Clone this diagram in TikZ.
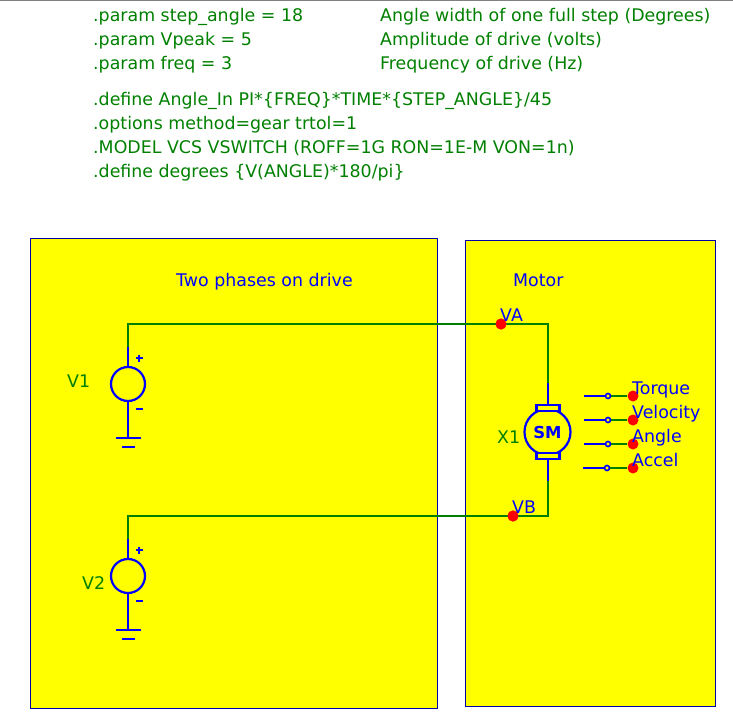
\documentclass[tikz,border=0pt]{standalone}
\usepackage{fontspec}
\setmainfont{DejaVu Sans}
\definecolor{panel}{RGB}{255,255,0}
\definecolor{netgreen}{RGB}{0,128,0}
\definecolor{partblue}{RGB}{0,0,255}
\definecolor{borderblue}{RGB}{0,0,160}
\tikzset{
  panelbox/.style ={draw=borderblue, fill=panel, line width=1.1pt},
  wire/.style     ={netgreen, line width=2pt},
  lead/.style     ={partblue, line width=2.2pt},
  spice/.style    ={text=netgreen, anchor=base west, inner sep=0pt, font=\fontsize{17.4}{20}\selectfont},
  note/.style     ={text=partblue, anchor=base west, inner sep=0pt, font=\fontsize{17.4}{20}\selectfont},
  partname/.style ={text=netgreen, anchor=base west, inner sep=0pt, font=\fontsize{17.4}{20}\selectfont},
  testdot/.style  ={circle, fill=red, inner sep=0pt, minimum size=11pt},
  source/.style   ={circle, draw=partblue, line width=2.2pt, inner sep=0pt, minimum size=34pt},
  brush/.style    ={draw=partblue, fill=panel, line width=2.2pt, minimum width=23pt, minimum height=6pt, inner sep=0pt},
  pin/.style      ={circle, draw=partblue, fill=panel, line width=1.6pt, inner sep=0pt, minimum size=5pt},
}

\begin{document}
\begin{tikzpicture}[x=1pt, y=-1pt]
  \useasboundingbox (0,0) rectangle (733,727);
  \draw[gray, line width=1pt] (0,0.5) -- (733,0.5);

  % ---------- Directives ----------
  \node[spice] (p1) at (93,22) {.param step\_angle = 18};
  \node[spice] (p2) at (93,46) {.param Vpeak = 5};
  \node[spice] (p3) at (93,70) {.param freq = 3};
  \node[spice] (c1) at (380,22) {Angle width of one full step (Degrees)};
  \node[spice] (c2) at (380,46) {Amplitude of drive (volts)};
  \node[spice] (c3) at (380,70) {Frequency of drive (Hz)};
  \node[spice] (d1) at (93,106) {.define Angle\_In PI*\{FREQ\}*TIME*\{STEP\_ANGLE\}/45};
  \node[spice] (d2) at (93,130) {.options method=gear trtol=1};
  \node[spice] (d3) at (93,154) {.MODEL VCS VSWITCH (ROFF=1G RON=1E-M VON=1n)};
  \node[spice] (d4) at (93,178) {.define degrees \{V(ANGLE)*180/pi\}};

  % ---------- Panels ----------
  \draw[panelbox] (30.5,238.5) rectangle (437.5,708.5);
  \draw[panelbox] (465.5,240.5) rectangle (715.5,706.5);
  \node[note] (drive) at (176,286) {Two phases on drive};
  \node[note] (motor) at (513,286) {Motor};

  % ---------- Motor ----------
  \node[source, minimum size=46pt, fill=panel] (sm) at (547.5,432) {};
  \node[text=partblue, font=\bfseries\fontsize{16.5}{18}\selectfont, inner sep=0pt] (smlabel) at (sm) {SM};
  \node[brush] (brushA) at (548,408) {};
  \node[brush] (brushB) at (548,456) {};
  \node[partname] (x1) at (497,443) {X1};

  % wires to the motor
  \coordinate (leadA) at (548,383);
  \coordinate (leadB) at (548,481);
  \node[testdot] (va) at (501,324) {};
  \node[testdot] (vb) at (513,516) {};
  \draw[lead] (leadA) -- (brushA.north);
  \draw[lead] (brushB.south) -- (leadB);

  % ---------- Sources ----------
  \begin{scope}
    \node[source] (v1) at (128,384) {};
    \coordinate (v1top) at (128,347);
    \coordinate (v1gnd) at (128,438);
    \coordinate (v1corner) at (128,324);
    \draw[lead] (v1top) -- (v1.north);
    \draw[lead] (v1.south) -- (v1gnd);
    \draw[lead] (116,438) -- (141,438);
    \draw[lead] (122,447) -- (135,447);
    \draw[partblue, line width=1.8pt] (135.5,358) -- (142.5,358) (139,354.5) -- (139,361.5);
    \draw[partblue, line width=1.8pt] (136,409) -- (142.5,409);
    \node[partname] (v1label) at (67,387) {V1};
  \end{scope}

  \begin{scope}[shift={(0,192)}]
    \node[source] (v2) at (128,384) {};
    \coordinate (v2top) at (128,347);
    \coordinate (v2gnd) at (128,438);
    \coordinate (v2corner) at (128,324);
    \draw[lead] (v2top) -- (v2.north);
    \draw[lead] (v2.south) -- (v2gnd);
    \draw[lead] (116,438) -- (141,438);
    \draw[lead] (122,447) -- (135,447);
    \draw[partblue, line width=1.8pt] (135.5,358) -- (142.5,358) (139,354.5) -- (139,361.5);
    \draw[partblue, line width=1.8pt] (136,409) -- (142.5,409);
    \node[partname] (v2label) at (82,397) {V2};
  \end{scope}

  \draw[wire] (v1top) -- (v1corner) -- (va.center) -| (leadA);
  \draw[wire] (v2top) -- (v2corner) -- (vb.center) -| (leadB);
  \node[testdot] at (va) {};
  \node[testdot] at (vb) {};
  \node[note] (valabel) at (500,321) {VA};
  \node[note] (vblabel) at (512,513) {VB};

  % ---------- Outputs ----------
  \foreach \name/\ypos/\xstart in {Torque/396/584, Velocity/420/584, Angle/444/584, Accel/468/583} {
    \coordinate (\name start) at (\xstart,\ypos);
    \node[pin] (\name pin) at (\xstart+24,\ypos) {};
    \node[testdot] (\name dot) at (633,\ypos) {};
    \draw[wire] (\name pin) -- (\name dot);
    \draw[lead] (\name start) -- (\name pin);
    \node[note] (\name label) at (632,\ypos-2) {\name};
  }
\end{tikzpicture}
\end{document}
